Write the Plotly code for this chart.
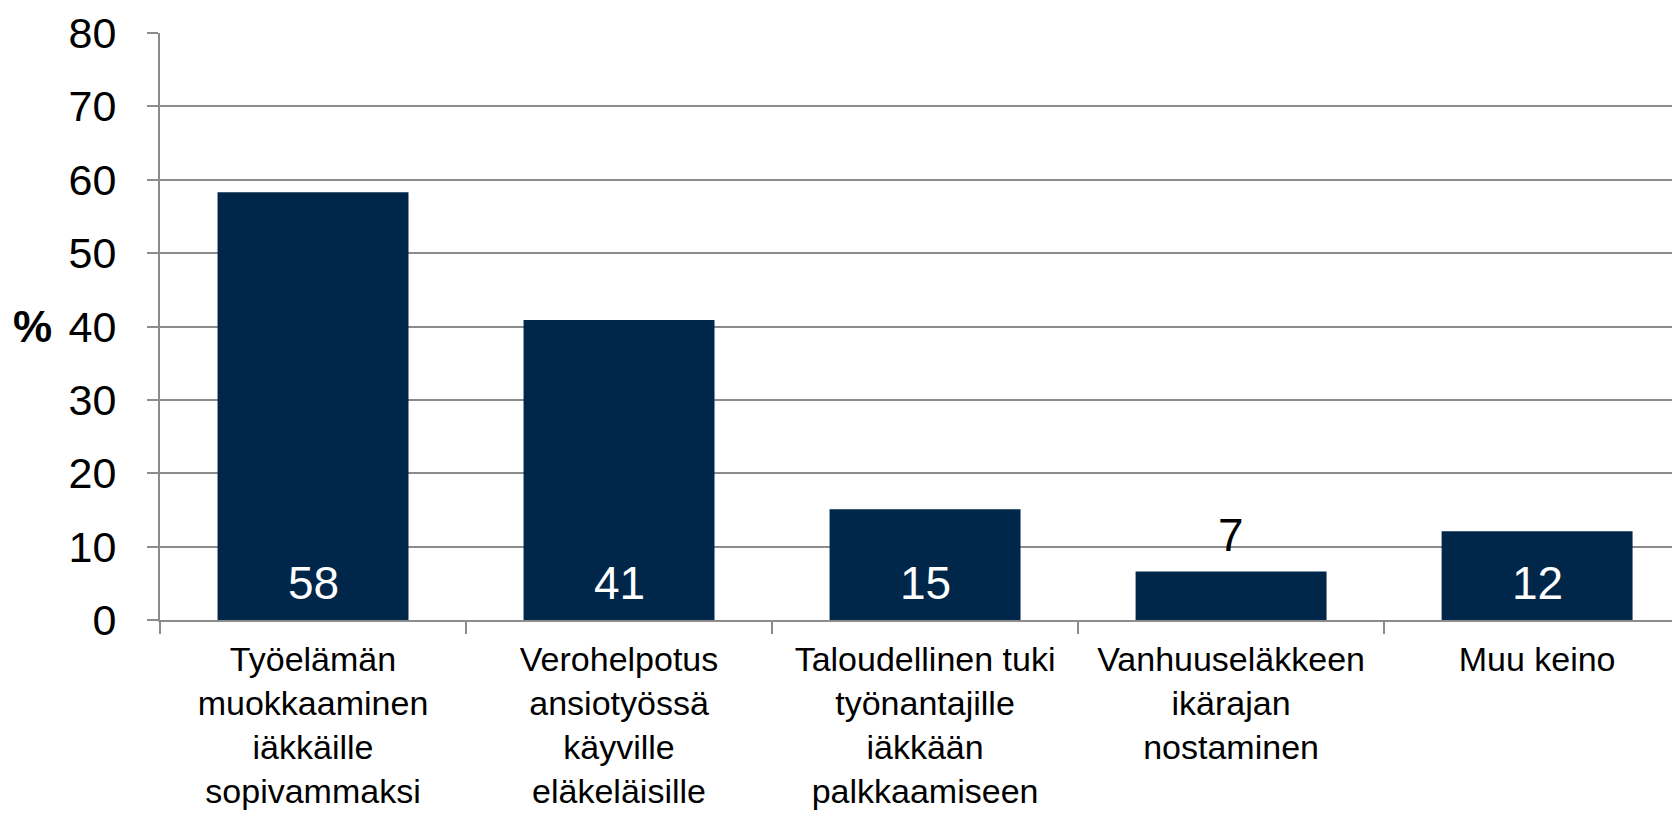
import plotly.graph_objects as go

categories = [
    "Työelämän<br>muokkaaminen<br>iäkkäille<br>sopivammaksi",
    "Verohelpotus<br>ansiotyössä<br>käyville<br>eläkeläisille",
    "Taloudellinen tuki<br>työnantajille<br>iäkkään<br>palkkaamiseen",
    "Vanhuuseläkkeen<br>ikärajan<br>nostaminen",
    "Muu keino",
]
values = [58.3, 40.9, 15.1, 6.6, 12.1]
labels = ["58", "41", "15", "7", "12"]
y_ticks = [0, 10, 20, 30, 40, 50, 60, 70, 80]

FONT = "Liberation Sans, Arial, sans-serif"
BAR = "#00264A"
GRID = "#8C8C8C"

fig = go.Figure()
fig.add_trace(go.Bar(
    x=categories, y=values, marker=dict(color=BAR, line=dict(width=0)),
    width=0.624, hoverinfo="skip", showlegend=False,
))

annotations = []
for c, v, t in zip(categories, values, labels):
    inside = v >= 10
    annotations.append(dict(
        x=c, y=0 if inside else v, xref="x", yref="y",
        text=t, showarrow=False, yanchor="middle", xanchor="center", yshift=37,
        font=dict(family=FONT, size=46, color="white" if inside else "black"),
    ))
annotations.append(dict(
    x=0, y=40, xref="paper", yref="y", text="<b>%</b>", showarrow=False,
    xanchor="center", yanchor="middle", xshift=-128,
    font=dict(family=FONT, size=44, color="black"),
))

fig.update_layout(
    template="none",
    width=1672, height=805,
    margin=dict(l=152, r=0, t=25, b=193, pad=0, autoexpand=False),
    paper_bgcolor="white", plot_bgcolor="white",
    annotations=annotations,
    xaxis=dict(
        type="category", range=[-0.5, 4.467], tickson="boundaries",
        ticks="outside", ticklen=12, tickcolor=GRID, tickwidth=2,
        showline=True, linecolor=GRID, linewidth=2, showgrid=False,
        tickfont=dict(family=FONT, size=34, color="black"), tickangle=0,
        ticklabelstandoff=8, automargin=False, fixedrange=True,
    ),
    yaxis=dict(
        range=[0, 80], tickvals=y_ticks, ticks="outside", ticklen=11,
        tickcolor=GRID, tickwidth=2, showline=True, linecolor=GRID, linewidth=2,
        showgrid=True, gridcolor=GRID, gridwidth=2, zeroline=False,
        tickfont=dict(family=FONT, size=43, color="black"),
        ticklabelstandoff=22, automargin=False, fixedrange=True,
    ),
)

fig.write_html("out.html", config={"displayModeBar": False})
